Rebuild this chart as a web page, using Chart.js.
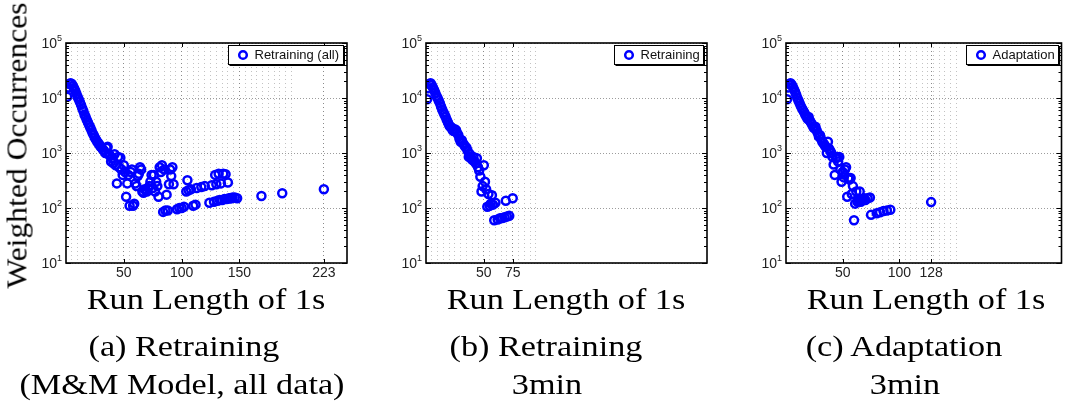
<!DOCTYPE html>
<html>
<head>
<meta charset="utf-8">
<title>Run length distributions</title>
<script src="https://cdn.jsdelivr.net/npm/chart.js@4.4.0/dist/chart.umd.min.js"></script>
<style>
  html, body { margin: 0; padding: 0; background: #fff; }
  body { width: 1068px; height: 404px; position: relative; overflow: hidden; }
  canvas { position: absolute; top: 20px; }
  .tex {
    position: absolute;
    font-family: "Liberation Serif", "Times New Roman", serif;
    font-size: 29px;
    line-height: 29px;
    height: 29px;
    width: 400px;
    white-space: nowrap;
    text-align: center;
    color: #000;
    transform: scaleX(1.18);
  }
  .ylab { width: 340px; transform: rotate(-90deg) scaleX(1.09); }
</style>
</head>
<body>
<canvas id="chartA" width="356" height="270" style="left:0px"></canvas>
<canvas id="chartB" width="356" height="270" style="left:360px"></canvas>
<canvas id="chartC" width="348" height="270" style="left:720px"></canvas>

<div class="tex ylab" style="left:-153px; top:131px">Weighted Occurrences</div>

<div class="tex" style="left:6px; top:285px">Run Length of 1s</div>
<div class="tex" style="left:366px; top:285px">Run Length of 1s</div>
<div class="tex" style="left:726px; top:285px">Run Length of 1s</div>

<div class="tex" style="left:-16px; top:332px">(a) Retraining</div>
<div class="tex" style="left:-18px; top:370px">(M&amp;M Model, all data)</div>
<div class="tex" style="left:346px; top:332px">(b) Retraining</div>
<div class="tex" style="left:347px; top:370px">3min</div>
<div class="tex" style="left:704px; top:332px">(c) Adaptation</div>
<div class="tex" style="left:705px; top:370px">3min</div>

<script>
// ---- data: run length of 1s vs. weighted occurrences ----

// (a) Retraining, M&M model, all data
const runA = [1, 2, 3, 4, 5, 6, 7, 8, 9, 10, 11, 12, 13, 14, 15, 16, 17, 18, 19, 20,
  21, 22, 23, 24, 25, 26, 27, 28, 29, 30, 31, 32, 33, 34, 35, 36, 37, 38, 39, 40,
  41, 42, 43, 44, 45, 46, 47, 48, 49, 50, 51, 52, 53, 54, 55, 56, 57, 58, 59, 60,
  61, 62, 63, 64, 65, 66, 67, 68, 69, 70, 71, 72, 73, 74, 75, 76, 77, 78, 79, 80,
  81, 82, 83, 84, 85, 86, 87, 88, 89, 90, 91, 92, 93, 96, 98, 100, 102, 104, 105, 106,
  108, 110, 112, 113, 117, 120, 124, 126, 128, 129, 130, 131, 132, 133, 134, 135, 136, 137, 138, 139,
  140, 141, 142, 143, 144, 146, 148, 169, 187, 223];
const occA = [10500, 15500, 18000, 18500, 18000, 16500, 15000, 13500, 12000, 10500, 9500, 8500, 7500, 6500, 5800, 5000, 4500, 4000, 3600, 3200,
  2900, 2600, 2300, 2100, 1900, 1750, 1600, 1500, 1400, 1300, 1250, 1150, 1100, 1000, 1250, 1300, 950, 900, 700, 800,
  650, 950, 600, 280, 850, 550, 820, 500, 400, 600, 450, 160, 280, 400, 110, 450, 500, 110, 120, 280,
  250, 380, 420, 550, 500, 200, 190, 220, 210, 200, 230, 250, 300, 400, 230, 400, 200, 300, 250, 160,
  550, 450, 600, 85, 500, 90, 175, 90, 270, 500, 380, 550, 270, 95, 100, 100, 105, 200, 320, 210,
  220, 110, 115, 230, 240, 250, 125, 260, 130, 400, 270, 135, 420, 140, 280, 140, 420, 145, 410, 145,
  290, 150, 150, 150, 155, 155, 150, 165, 185, 220];

// (b) Retraining, 3min
const runB = [1, 2, 3, 4, 5, 6, 7, 8, 9, 10, 11, 12, 13, 14, 15, 16, 17, 18, 19, 20,
  21, 22, 23, 24, 25, 26, 27, 28, 29, 30, 31, 32, 33, 34, 35, 36, 37, 38, 39, 40,
  41, 42, 43, 44, 45, 46, 47, 48, 49, 50, 51, 52, 53, 54, 55, 56, 57, 58, 59, 60,
  62, 64, 66, 68, 69, 70, 72, 75];
const occB = [9500, 15000, 18000, 18500, 17000, 15500, 14000, 12500, 11000, 10000, 9000, 8000, 7000, 6200, 5500, 5000, 4500, 4000, 3600, 3200,
  3000, 2900, 2600, 2500, 2700, 2600, 2300, 2100, 1800, 1600, 1700, 1500, 1400, 1300, 1250, 1100, 850, 950, 800, 750,
  850, 700, 650, 800, 550, 480, 370, 200, 250, 600, 300, 220, 105, 180, 110, 120, 170, 115, 60, 125,
  62, 65, 66, 68, 135, 70, 72, 150];

// (c) Adaptation, 3min
const runC = [1, 2, 3, 4, 5, 6, 7, 8, 9, 10, 11, 12, 13, 14, 15, 16, 17, 18, 19, 20,
  21, 22, 23, 24, 25, 26, 27, 28, 29, 30, 31, 32, 33, 34, 35, 36, 37, 38, 39, 40,
  41, 42, 43, 44, 45, 46, 47, 48, 49, 50, 51, 52, 53, 54, 55, 56, 57, 58, 59, 60,
  61, 62, 63, 64, 65, 66, 67, 68, 69, 70, 72, 74, 75, 80, 83, 86, 89, 92, 128];
const occC = [9500, 15500, 18000, 18500, 17500, 16000, 14500, 13000, 11500, 10000, 9000, 8000, 7200, 6500, 6000, 5500, 5000, 4600, 4200, 4500,
  3900, 3600, 3300, 3000, 2800, 3000, 2600, 2300, 2000, 2100, 1800, 1600, 1500, 1400, 1300, 1000, 1600, 1200, 1100, 1000,
  850, 620, 400, 800, 850, 700, 850, 500, 300, 450, 360, 500, 550, 160, 350, 330, 350, 180, 250, 60,
  120, 200, 130, 140, 200, 130, 140, 145, 150, 140, 150, 155, 75, 80, 84, 88, 90, 93, 128];

// labelled x ticks and the extent of the dotted x grid
const xLabelsA = [50, 100, 150, 223];
const xLabelsB = [50, 75];
const xLabelsC = [50, 100, 128];
const gridEndA = 195;
const gridEndB = 95;
const gridEndC = 150;
const gridStep = 5;

const yDecades = [10, 100, 1000, 10000, 100000];
const xMin = 0;
const xMax = 243;

const BLUE = '#0000ff';
const SANS = '"Liberation Sans", Arial, Helvetica, sans-serif';

// box, inside tick marks, 10^n labels and the boxed legend, drawn on top of the points
const framePlugin = {
  id: 'frame',
  afterDraw(chart, args, opts) {
    const { ctx, chartArea: a, scales: { x, y } } = chart;
    ctx.save();
    ctx.strokeStyle = '#000';
    ctx.lineWidth = 1;
    ctx.beginPath();
    opts.xLabels.forEach(v => {
      const px = Math.round(x.getPixelForValue(v)) + 0.5;
      ctx.moveTo(px, a.bottom); ctx.lineTo(px, a.bottom - 4);
      ctx.moveTo(px, a.top); ctx.lineTo(px, a.top + 4);
    });
    yDecades.forEach((d, i) => {
      const py = Math.round(y.getPixelForValue(d)) + 0.5;
      ctx.moveTo(a.left, py); ctx.lineTo(a.left + 5, py);
      ctx.moveTo(a.right, py); ctx.lineTo(a.right - 5, py);
      if (i === yDecades.length - 1) return;
      for (let m = 2; m < 10; m++) {
        const pm = Math.round(y.getPixelForValue(d * m)) + 0.5;
        ctx.moveTo(a.left, pm); ctx.lineTo(a.left + 3, pm);
        ctx.moveTo(a.right, pm); ctx.lineTo(a.right - 3, pm);
      }
    });
    ctx.stroke();

    ctx.lineWidth = 1.6;
    ctx.strokeRect(a.left, a.top, a.width, a.height);

    // y tick labels as 10 with a raised exponent
    ctx.fillStyle = '#222';
    ctx.textBaseline = 'alphabetic';
    ctx.textAlign = 'right';
    y.ticks.forEach(t => {
      const py = y.getPixelForValue(t.value);
      const exp = String(Math.round(Math.log10(t.value)));
      ctx.font = '9px ' + SANS;
      const ew = ctx.measureText(exp).width;
      const right = a.left - 4;
      ctx.fillText(exp, right, py - 2);
      ctx.font = '14px ' + SANS;
      ctx.fillText('10', right - ew, py + 5);
    });
    ctx.textAlign = 'left';

    // legend
    const ds = chart.data.datasets[0];
    ctx.font = '13px ' + SANS;
    const tw = ctx.measureText(ds.label).width;
    const bw = Math.round(tw + 30), bh = 19;
    const bx = Math.round(a.right - 4 - bw) + 0.5, by = Math.round(a.top + 2) + 0.5;
    ctx.fillStyle = '#fff';
    ctx.fillRect(bx, by, bw, bh);
    ctx.lineWidth = 1;
    ctx.strokeStyle = '#000';
    ctx.strokeRect(bx, by, bw, bh);
    ctx.beginPath();
    ctx.moveTo(bx + 1, by + bh + 1); ctx.lineTo(bx + bw + 1, by + bh + 1); ctx.lineTo(bx + bw + 1, by + 1);
    ctx.stroke();
    ctx.beginPath();
    ctx.strokeStyle = BLUE;
    ctx.lineWidth = 2.5;
    ctx.arc(bx + 14.5, by + bh / 2, 3.8, 0, Math.PI * 2);
    ctx.stroke();
    ctx.fillStyle = '#111';
    ctx.textBaseline = 'middle';
    ctx.fillText(ds.label, bx + 26, by + bh / 2 + 0.5);
    ctx.restore();
  }
};

function makePanel(id, label, runs, occ, xLabels, gridEnd, rightPad) {
  const xTicks = [];
  for (let v = gridStep; v <= gridEnd; v += gridStep) xTicks.push(v);
  xLabels.forEach(v => { if (!xTicks.includes(v)) xTicks.push(v); });
  xTicks.sort((p, q) => p - q);

  return new Chart(document.getElementById(id), {
    type: 'scatter',
    data: {
      datasets: [{
        label: label,
        data: runs.map((r, i) => ({ x: r, y: occ[i] })),
        showLine: false,
        pointStyle: 'circle',
        pointRadius: 4,
        pointBorderWidth: 2.5,
        pointBorderColor: BLUE,
        pointBackgroundColor: 'rgba(0,0,0,0)'
      }]
    },
    options: {
      responsive: false,
      animation: false,
      devicePixelRatio: 1,
      layout: { padding: { top: 23, right: rightPad, left: 0, bottom: 0 } },
      plugins: {
        legend: { display: false },
        tooltip: { enabled: false },
        frame: { xLabels: xLabels }
      },
      scales: {
        x: {
          type: 'linear',
          min: xMin,
          max: xMax,
          afterBuildTicks: scale => { scale.ticks = xTicks.map(v => ({ value: v })); },
          afterFit: scale => { scale.height = 27; },
          border: { display: false, dash: [1, 3] },
          grid: {
            drawTicks: false,
            lineWidth: 1,
            color: c => (c.tick && xLabels.includes(c.tick.value)) ? '#8a8a8a' : '#c2c2c2'
          },
          ticks: {
            autoSkip: false,
            maxRotation: 0,
            minRotation: 0,
            padding: 2,
            color: '#222',
            font: { family: SANS, size: 14 },
            callback: v => xLabels.includes(v) ? String(v) : ''
          }
        },
        y: {
          type: 'logarithmic',
          min: 10,
          max: 100000,
          afterBuildTicks: scale => { scale.ticks = yDecades.map(v => ({ value: v })); },
          afterFit: scale => { scale.width = 66; },
          border: { display: false, dash: [1, 2] },
          grid: { drawTicks: false, lineWidth: 1, color: '#9c9c9c' },
          ticks: { display: false }
        }
      }
    },
    plugins: [framePlugin]
  });
}

makePanel('chartA', 'Retraining (all)', runA, occA, xLabelsA, gridEndA, 9);
makePanel('chartB', 'Retraining', runB, occB, xLabelsB, gridEndB, 9);
makePanel('chartC', 'Adaptation', runC, occC, xLabelsC, gridEndC, 1);
</script>
</body>
</html>
